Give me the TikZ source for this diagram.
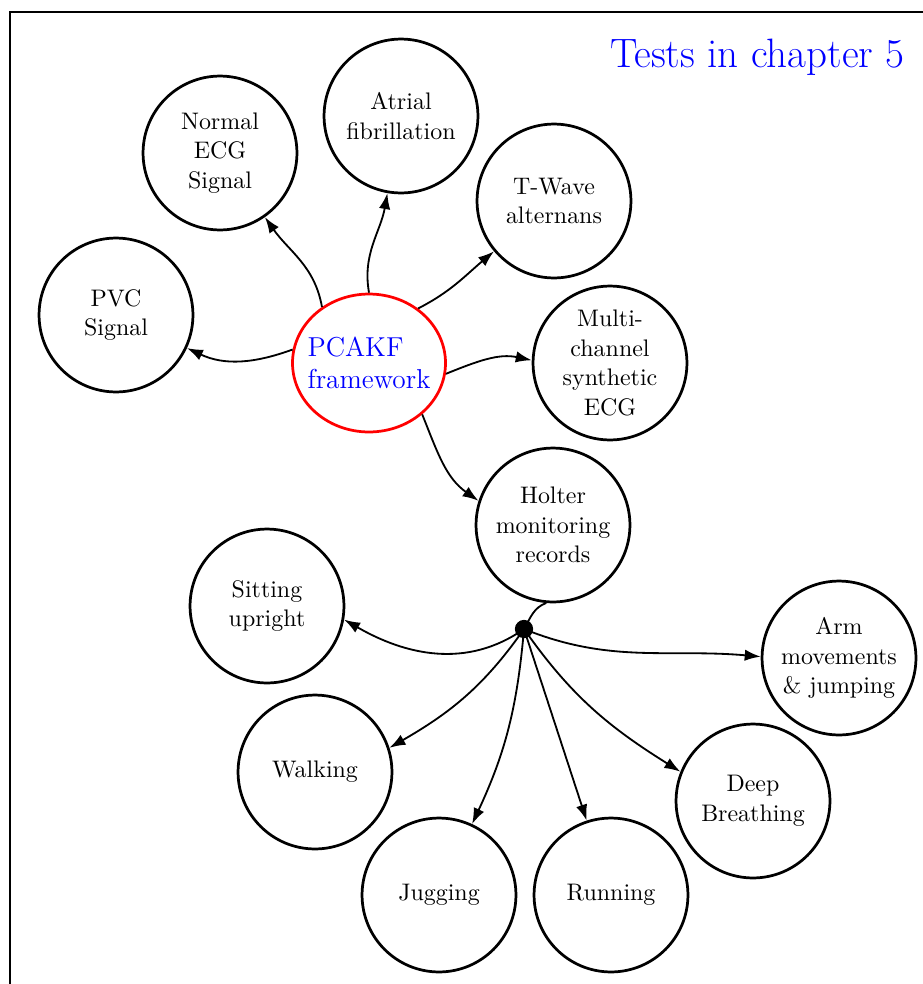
\documentclass[tikz,border=0pt]{standalone}
\usepackage{tikz}
\usetikzlibrary{arrows.meta,shapes.geometric}

\begin{document}
\begin{tikzpicture}[x=0.4386pt,y=-0.4386pt, every node/.style={align=center},
  c/.style={circle,draw,line width=1.2pt,minimum size=67.5pt,inner sep=1pt,font=\fontsize{10.5}{13}\selectfont},
  a/.style={-{Latex[length=7pt,width=5pt]},line width=0.8pt}]
  \clip (0,0) rectangle (923,984);
  \draw[line width=1.2pt] (10,12) rectangle (990,1040);
  \node[text=blue,font=\fontsize{18}{21}\selectfont,anchor=east,inner sep=0pt] (title) at (905,57) {Tests in chapter 5};
  % centre of the tree
  \node[ellipse,draw=red,line width=1.2pt,minimum width=67.1pt,minimum height=60.5pt,inner xsep=-4pt,inner ysep=0pt,
    text=blue,font=\large,align=left] (pcakf) at (369,363) {PCAKF\\framework};
  \node[c] (normal) at (220,153) {Normal\\ECG\\Signal};
  \node[c] (af) at (401,116) {Atrial\\fibrillation};
  \node[c] (twa) at (554,201) {T-Wave\\alternans};
  \node[c] (pvc) at (116,315) {PVC\\Signal};
  \node[c] (multi) at (610,363) {Multi-\\channel\\synthetic\\ECG};
  \node[c] (holter) at (553,525) {Holter\\monitoring\\records};
  % activities of the Holter records
  \node[circle,fill,inner sep=0pt,minimum size=8pt] (hub) at (524,629) {};
  \node[c] (sit) at (267,606) {Sitting\\upright};
  \node[c] (arm) at (839,658) {Arm\\movements\\\& jumping};
  \node[c] (walk) at (315,772) {Walking};
  \node[c] (deep) at (753,801) {Deep\\Breathing};
  \node[c] (jug) at (439,895) {Jugging};
  \node[c] (run) at (611,895) {Running};

  \draw[a] (pcakf.130) to[out=100,in=-55] (normal);
  \draw[a] (pcakf.north) to[out=100,in=-100] (af);
  \draw[a] (pcakf.48) to[out=27,in=-140] (twa);
  \draw[a] (pcakf.170) to[out=200,in=-25] (pvc);
  \draw[a] (pcakf.-8) to[out=22,in=168] (multi.178);
  \draw[a] (pcakf.-44) to[out=-68,in=145] (holter.162);
  \draw[line width=0.8pt] (holter.-95) to[out=200,in=60] (hub.center);
  \draw[a] (hub.center) to[out=215,in=-30] (sit.-10);
  \draw[a] (hub.center) to[out=-22,in=175] (arm.179);
  \draw[a] (hub.center) to[out=-125,in=30] (walk.18);
  \draw[a] (hub.center) to[out=-95,in=65] (jug);
  \draw[a] (hub.center) -- (run);
  \draw[a] (hub.center) to[out=-55,in=148] (deep.158);
\end{tikzpicture}
\end{document}
